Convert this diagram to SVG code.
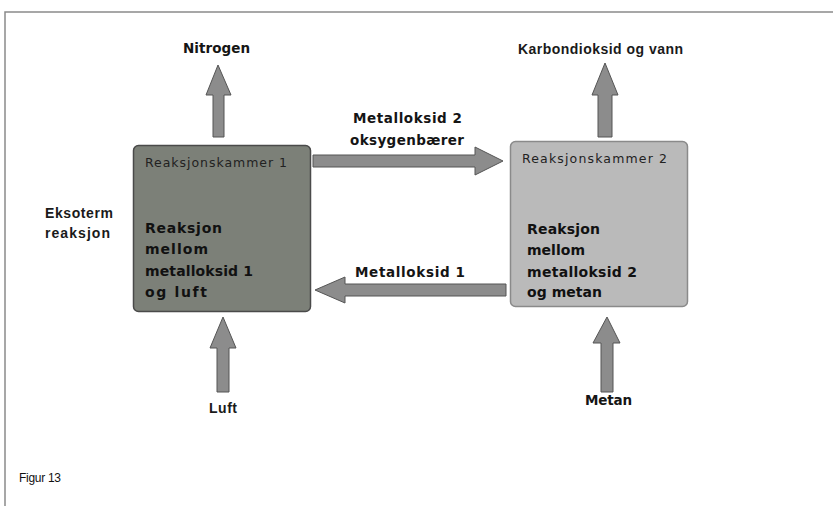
<svg xmlns="http://www.w3.org/2000/svg" width="833" height="506" viewBox="0 0 833 506">
<style>
.lbl{font-family:"Liberation Sans",Arial,sans-serif;font-weight:bold;font-size:14px;fill:#1a1a1a}
.vb{font-family:"DejaVu Sans",Verdana,sans-serif;font-weight:bold;font-size:13.5px;fill:#151515}
.body{font-family:"DejaVu Sans",Verdana,sans-serif;font-weight:bold;font-size:14px;fill:#111}
.title{font-family:"DejaVu Sans",Verdana,sans-serif;font-size:12.5px;fill:#222}
.arrow{fill:#8c8c8c;stroke:#555;stroke-width:1}
.frame{stroke:#8a8a8a;stroke-width:1.5;fill:none}
</style>
<rect width="833" height="506" fill="#fff"/>
<path class="frame" d="M5,506 V12 H833"/>
<g id="connectors">
  <polygon class="arrow" points="213,137 213,95 206,95 218,65 231,95 224,95 224,137"/>
  <polygon class="arrow" points="598,137 598,95 592,95 605,63 618,95 612,95 612,137"/>
  <polygon class="arrow" points="313,155 475,155 475,147 503,161 475,175 475,167 313,167"/>
  <polygon class="arrow" points="506,284 345,284 345,277 315,290 345,303 345,296 506,296"/>
  <polygon class="arrow" points="217,392 217,348 210,348 223,317 236,348 229,348 229,392"/>
  <polygon class="arrow" points="601,392 601,343 593,343 607,317 620,343 613,343 613,392"/>
</g>
<g id="box1">
  <rect x="133.5" y="145.5" width="177" height="166" rx="5" fill="#7c8078" stroke="#4a4a4a" stroke-width="1.5"/>
  <text class="title" x="145" y="167" textLength="142">Reaksjonskammer 1</text>
  <text class="body" x="145" y="233" textLength="77">Reaksjon</text>
  <text class="body" x="145" y="254" textLength="63">mellom</text>
  <text class="body" x="145" y="276" textLength="108">metalloksid 1</text>
  <text class="body" x="145" y="297" textLength="62">og luft</text>
</g>
<g id="box2">
  <rect x="510.5" y="141.5" width="177" height="165" rx="5" fill="#bababa" stroke="#8a8a8a" stroke-width="1.5"/>
  <text class="title" x="522" y="163" textLength="145">Reaksjonskammer 2</text>
  <text class="body" x="527" y="234" textLength="73">Reaksjon</text>
  <text class="body" x="527" y="255" textLength="58">mellom</text>
  <text class="body" x="527" y="277" textLength="110">metalloksid 2</text>
  <text class="body" x="527" y="297" textLength="75">og metan</text>
</g>
<g id="labels">
  <text class="vb" x="183" y="53" textLength="67">Nitrogen</text>
  <text class="lbl" x="518" y="54" textLength="165">Karbondioksid og vann</text>
  <text class="vb" x="353" y="123" textLength="109">Metalloksid 2</text>
  <text class="vb" x="350" y="145" textLength="114">oksygenbærer</text>
  <text class="vb" x="355" y="277" textLength="110">Metalloksid 1</text>
  <text class="lbl" x="45" y="218" textLength="68">Eksoterm</text>
  <text class="lbl" x="45" y="238" textLength="65">reaksjon</text>
  <text class="lbl" x="209" y="413" textLength="28">Luft</text>
  <text class="vb" x="585" y="405" textLength="47">Metan</text>
  <text x="19" y="482" font-family="'Liberation Sans',Arial,sans-serif" font-size="12" fill="#111" textLength="42">Figur 13</text>
</g>
</svg>
